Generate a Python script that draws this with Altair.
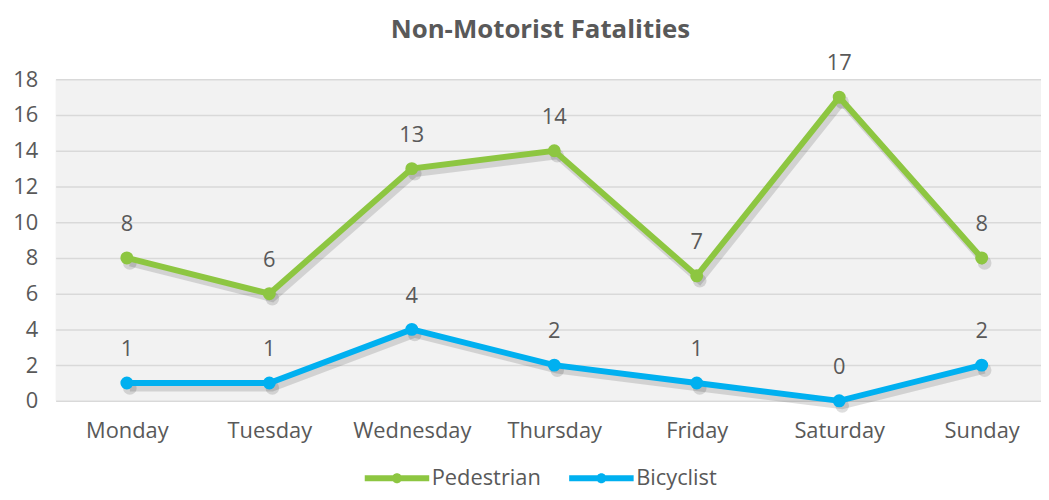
import altair as alt
import pandas as pd

days = ["Monday", "Tuesday", "Wednesday", "Thursday", "Friday", "Saturday", "Sunday"]
pedestrian = [8, 6, 13, 14, 7, 17, 8]
bicyclist = [1, 1, 4, 2, 1, 0, 2]
series = ["Pedestrian", "Bicyclist"]
colors = ["#8dc641", "#00b0f0"]
y_ticks = [0, 2, 4, 6, 8, 10, 12, 14, 16, 18]

rows = []
for d, p, b in zip(days, pedestrian, bicyclist):
    rows.append({"day": d, "series": "Pedestrian", "value": p})
    rows.append({"day": d, "series": "Bicyclist", "value": b})
df = pd.DataFrame(rows)

FONT = "Open Sans"
GRAY = "#595959"

x = alt.X("day:N", sort=days,
          scale=alt.Scale(domain=days, range=[0, 1005]),
          axis=alt.Axis(title=None, labelAngle=0, domain=False, ticks=False, grid=False,
                        labelFontSize=22, labelColor=GRAY, labelFont=FONT, labelPadding=20))
y = alt.Y("value:Q",
          scale=alt.Scale(domain=[0, 18], nice=False, zero=True),
          axis=alt.Axis(title=None, values=y_ticks, domain=False, ticks=False,
                        gridColor="#d9d9d9", gridWidth=1.5,
                        labelFontSize=22, labelColor=GRAY, labelFont=FONT, labelPadding=18))
legend_symbol = ("M-3.42,-0.32H3.42V0.32H-3.42Z "
                 "M0.53,0 A0.53,0.53 0 1 1 -0.53,0 A0.53,0.53 0 1 1 0.53,0")
color = alt.Color("series:N", sort=series,
                  scale=alt.Scale(domain=series, range=colors),
                  legend=alt.Legend(title=None, orient="none", legendX=333, legendY=391,
                                    direction="horizontal",
                                    symbolType=legend_symbol,
                                    symbolSize=361, symbolStrokeWidth=0,
                                    labelFontSize=22, labelColor=GRAY, labelFont=FONT,
                                    labelOffset=24, columnPadding=28))

base = alt.Chart(df)

shadow_line = base.mark_line(color="#000000", opacity=0.13, strokeWidth=7,
                             xOffset=3, yOffset=5).encode(x=x, y=y, detail="series:N")
shadow_pt = base.mark_circle(color="#000000", opacity=0.13, size=190,
                             xOffset=3, yOffset=5).encode(x=x, y=y)
lines = base.mark_line(strokeWidth=6).encode(x=x, y=y, color=color)
pts = base.mark_circle(size=170, opacity=1).encode(x=x, y=y, color=alt.Color("series:N", sort=series,
                                                   scale=alt.Scale(domain=series, range=colors), legend=None))
labels = base.mark_text(dy=-34, fontSize=22, font=FONT, color=GRAY).encode(
    x=x, y=y, text="value:Q")

chart = alt.layer(shadow_line, shadow_pt, lines, pts, labels).properties(
    width=993, height=324,
    autosize="none",
    padding={"left": 48, "top": 70, "right": 0, "bottom": 90},
    title=alt.TitleParams("Non-Motorist Fatalities", fontSize=26, font=FONT, fontWeight="bold",
                          color=GRAY, anchor="middle", dx=-8, offset=10),
).configure_view(fill="#f2f2f2", stroke=None)

chart.save("out.html", embed_options={"renderer": "svg", "actions": False})
